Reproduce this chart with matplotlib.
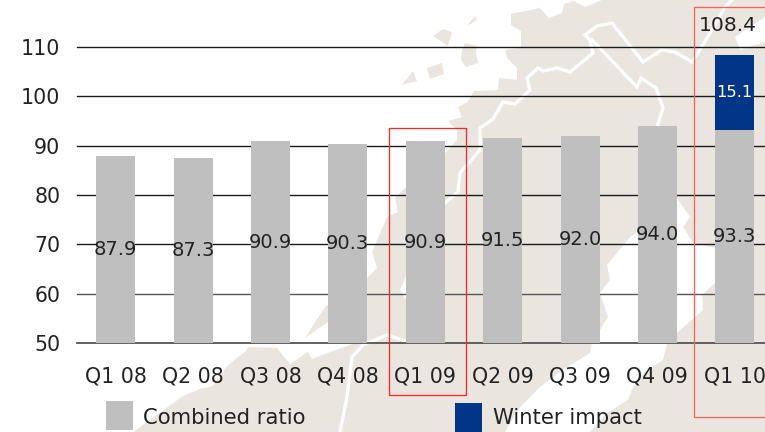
import matplotlib
matplotlib.use('Agg')
import matplotlib.pyplot as plt
from matplotlib.patches import Polygon, Rectangle

quarters = ['Q1 08', 'Q2 08', 'Q3 08', 'Q4 08', 'Q1 09', 'Q2 09', 'Q3 09', 'Q4 09', 'Q1 10']
combined = [88.0, 87.4, 90.9, 90.3, 90.9, 91.5, 92.0, 94.0, 93.2]
combined_labels = ['87.9', '87.3', '90.9', '90.3', '90.9', '91.5', '92.0', '94.0', '93.3']
winter = [15.2]
winter_label = '15.1'
winter_total = '108.4'
yticks = [50, 60, 70, 80, 90, 100, 110]

BEIGE = '#EAE6DF'
GREY = '#BFBFBF'
NAVY = '#003588'
TXT = '#222222'
W, H = 765, 432

# background map, in pixel coords
land = [(577, 0), (765, 0), (765, 432), (133, 432), (183, 396), (200, 389), (213, 386), (227, 366),
        (246, 351), (248, 347), (277, 348), (290, 364), (308, 352), (312, 359), (333, 351), (350, 345),
        (367, 338), (345, 330), (328, 322), (305, 338), (325, 307), (367, 278), (377, 268), (372, 252),
        (387, 217), (398, 212), (395, 198), (406, 187), (430, 170), (457, 140), (457, 130), (448, 121),
        (462, 117), (458, 107), (468, 102), (474, 91), (498, 90), (499, 78), (517, 80), (517, 68),
        (507, 58), (505, 50), (521, 48), (521, 31), (511, 25), (511, 14), (540, 8), (549, 18),
        (562, 13), (564, 4)]
islands = [
    [(433, 36), (443, 29), (452, 32), (448, 46)],
    [(467, 26), (475, 16), (477, 20)],
    [(465, 43), (477, 46), (476, 52), (478, 63), (466, 67), (461, 60), (462, 50)],
    [(427, 68), (442, 63), (444, 74), (430, 79)],
    [(402, 85), (413, 71), (417, 81)],
]
sea = [
    [(677, 198), (690, 217), (683, 227), (693, 243), (715, 248), (715, 283), (702, 295), (703, 310),
     (677, 333), (667, 343), (663, 360), (643, 373), (633, 387), (628, 400), (607, 413), (590, 432),
     (505, 432), (520, 407), (540, 387), (563, 370), (590, 353), (592, 343), (608, 317), (600, 293),
     (610, 280), (607, 265), (630, 237), (660, 215)],
    [(735, 37), (765, 17), (765, 42), (740, 50)],
    [(572, 0), (585, 7), (602, 0)],
    [(403, 283), (406, 275), (406, 300), (400, 290)],
]
rivers = [
    [(445, 203), (458, 192), (460, 173), (480, 150), (480, 128), (493, 119), (503, 102), (515, 104),
     (530, 90), (527, 78), (538, 68), (543, 71), (557, 68), (570, 72), (593, 53), (590, 40), (585, 35),
     (597, 26), (612, 23), (643, 62), (662, 50), (675, 52), (692, 62), (712, 30), (725, 7), (732, 0)],
    [(592, 40), (637, 87), (641, 78), (656, 88), (663, 108), (657, 127)],
    [(340, 432), (347, 397), (352, 357), (363, 345), (387, 335), (406, 341)],
]

fig = plt.figure(figsize=(W / 100, H / 100), dpi=100, facecolor='white')

bg = fig.add_axes([0, 0, 1, 1], zorder=0)
bg.set_xlim(0, W)
bg.set_ylim(H, 0)
bg.axis('off')
bg.add_patch(Polygon(land, fc=BEIGE, ec='none'))
for p in islands:
    bg.add_patch(Polygon(p, fc=BEIGE, ec='none'))
for p in sea:
    bg.add_patch(Polygon(p, fc='white', ec='none'))
for r in rivers:
    bg.plot([a[0] for a in r], [a[1] for a in r], color='white', lw=2.4, solid_joinstyle='miter')

# chart
ax = fig.add_axes([77 / W, 1 - 343 / H, (W - 77) / W, (343 - 47) / H], zorder=1)
ax.patch.set_alpha(0)
for s in ax.spines.values():
    s.set_visible(False)
x = list(range(len(quarters)))
ax.set_xlim(-0.5, 8.39)
ax.set_ylim(50, 110)

for t in yticks:
    c = '#555555' if t <= 60 else '#1a1a1a'
    ax.axhline(t, color=c, lw=1.0 if t > 50 else 1.3, zorder=1, clip_on=False)

ax.bar(x, [v - 50 for v in combined], bottom=50, width=0.504, color=GREY, zorder=2)
ax.bar(x[-1], winter[0], bottom=combined[-1], width=0.504, color=NAVY, zorder=2)

for i, v in enumerate(combined):
    ax.text(i, (50 + v) / 2, combined_labels[i], ha='center', va='center', fontsize=14, color=TXT, zorder=3)
ax.text(x[-1], combined[-1] + winter[0] / 2, winter_label, ha='center', va='center',
        fontsize=11.8, color='white', zorder=3)
ax.annotate(winter_total, (x[-1], combined[-1] + winter[0]), xytext=(-5, 21),
            textcoords='offset points', ha='center', va='center', fontsize=14.6, color=TXT,
            annotation_clip=False, zorder=3)

ax.set_xticks(x)
ax.set_xticklabels(quarters, fontsize=14.8, color=TXT)
ax.set_yticks(yticks)
ax.set_yticklabels(yticks, fontsize=14.8, color=TXT)
ax.tick_params(axis='x', length=0, pad=17)
ax.tick_params(axis='y', length=0, pad=12)

# red boxes and legend, in pixel coords
top = fig.add_axes([0, 0, 1, 1], zorder=2)
top.set_xlim(0, W)
top.set_ylim(H, 0)
top.axis('off')
top.add_patch(Rectangle((389, 128), 77.5, 267, fc='none', ec='#f52a2a', lw=0.95))
top.add_patch(Rectangle((694, 7), 90, 410, fc='none', ec='#f96060', lw=0.95, clip_on=True))
top.add_patch(Rectangle((106, 401), 27, 29, fc=GREY, ec='none'))
top.add_patch(Rectangle((455, 403), 27, 29, fc=NAVY, ec='none'))
top.text(143, 418, 'Combined ratio', fontsize=15.2, color=TXT, va='center', ha='left')
top.text(493, 418, 'Winter impact', fontsize=15.2, color=TXT, va='center', ha='left')

fig.savefig('out.png', dpi=100)
